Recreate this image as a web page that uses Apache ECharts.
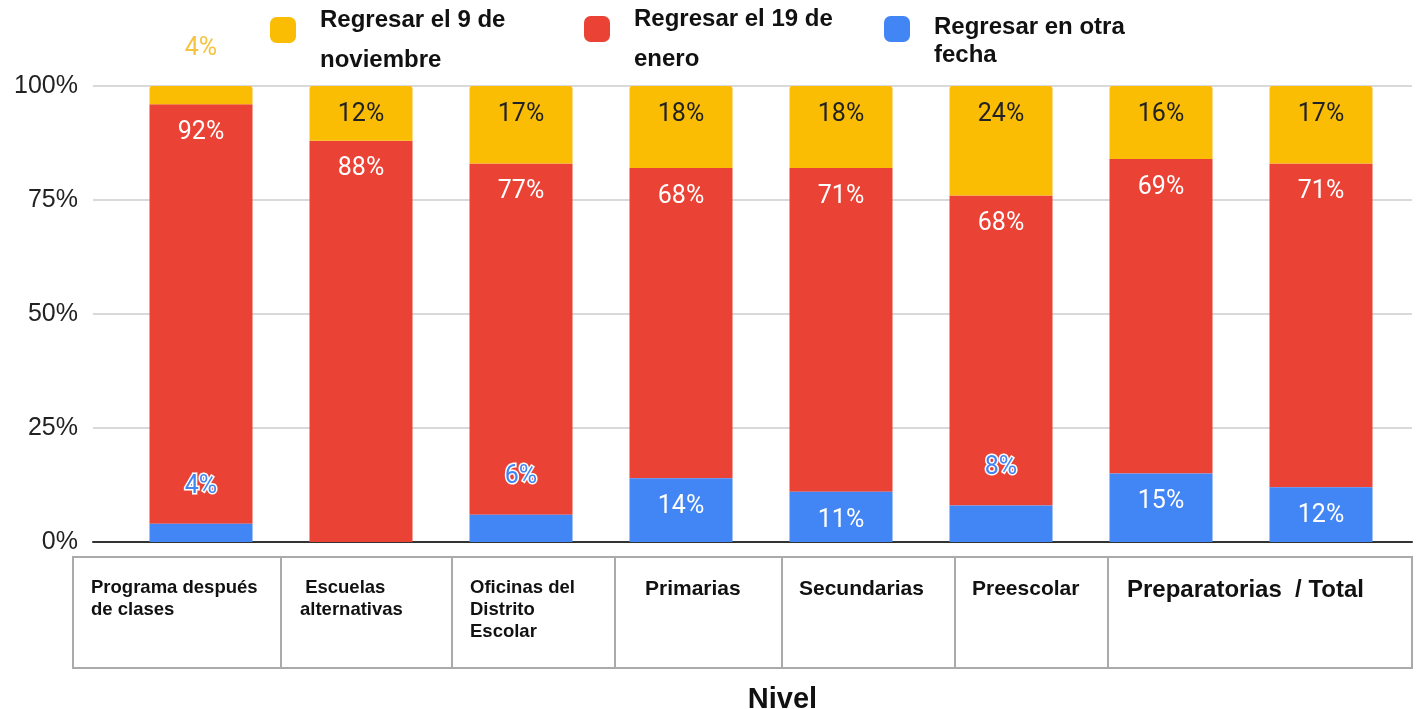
<!DOCTYPE html>
<html>
<head>
<meta charset="utf-8">
<script src="https://cdn.jsdelivr.net/npm/echarts@6/dist/echarts.min.js"></script>
<style>
html,body{margin:0;padding:0;background:#fff;}
#chart{width:1418px;height:709px;}
</style>
</head>
<body>
<div id="chart"></div>
<script>
// ---- data ----
const categories = ['Programa después de clases','Escuelas alternativas','Oficinas del Distrito Escolar','Primarias','Secundarias','Preescolar','Preparatorias','Total'];
const seriesNames = ['Regresar el 9 de noviembre','Regresar el 19 de enero','Regresar en otra fecha'];
const legendLines = [['Regresar el 9 de','noviembre'],['Regresar el 19 de','enero'],['Regresar en otra','fecha']];
const otraFecha = [4, 0, 6, 14, 11, 8, 15, 12];
const enero19 = [92, 88, 77, 68, 71, 68, 69, 71];
const nov9 = [4, 12, 17, 18, 18, 24, 16, 17];
const yTicks = [0, 25, 50, 75, 100];
const cellLabels = ['Programa después\nde clases', ' Escuelas\nalternativas', 'Oficinas del\nDistrito\nEscolar', 'Primarias', 'Secundarias', 'Preescolar', 'Preparatorias  / Total'];
const axisTitle = 'Nivel';

// ---- layout (not data) ----
const cellEdges = [73, 281, 452, 615, 782, 955, 1108, 1412];
const cellTextOffset = [18, 19, 18, 30, 17, 17, 19];
const cellFont = [18.5, 18.5, 18.5, 21, 21, 21, 24];
const cellTextTop = [577, 577, 577, 578, 578, 578, 578];
const tableTop = 557, tableBottom = 668;

const COLORS = {yellow:'#FBBC04', red:'#EA4335', blue:'#4285F4'};
const SANS = '"Liberation Sans", Arial, sans-serif';

function makeData(vals, outsideColor) {
  return vals.map(v => {
    if (v === 0) return {value: v, label: {show: false}};
    if (v < 10) return {value: v, label: {position: 'top', distance: 25, color: outsideColor,
      textBorderColor: '#fff', textBorderWidth: 3}};
    return {value: v};
  });
}

const labelBase = {
  show: true, position: 'insideTop', distance: 16,
  fontFamily: 'Roboto', fontSize: 25, formatter: '{c}%'
};

const graphic = [];
graphic.push({type:'rect', shape:{x:cellEdges[0], y:tableTop, width:cellEdges[cellEdges.length-1]-cellEdges[0], height:tableBottom-tableTop},
  style:{fill:'none', stroke:'#aaaaaa', lineWidth:2}, silent:true});
for (let i = 1; i < cellEdges.length - 1; i++) {
  graphic.push({type:'line', shape:{x1:cellEdges[i], y1:tableTop, x2:cellEdges[i], y2:tableBottom},
    style:{stroke:'#aaaaaa', lineWidth:2}, silent:true});
}
cellLabels.forEach((t, i) => {
  graphic.push({type:'text', left: cellEdges[i] + cellTextOffset[i], top: cellTextTop[i],
    style:{text:t, font:'bold ' + cellFont[i] + 'px ' + SANS, fill:'#111', lineHeight: 22}, silent:true});
});

function legendFor(idx, left, top, h1, h2) {
  const tok = {fontFamily: SANS, fontWeight:'bold', fontSize:24, color:'#111'};
  return {
    data: [seriesNames[idx]], left: left, top: top, padding: 0,
    icon: 'roundRect', itemWidth: 26, itemHeight: 26,
    formatter: () => '{a|' + legendLines[idx][0] + '}\n{b|' + legendLines[idx][1] + '}',
    textStyle: Object.assign({}, tok, {padding:[0, 0, 0, 19],
      rich: {a: Object.assign({lineHeight: h1}, tok), b: Object.assign({lineHeight: h2}, tok)}}),
    selectedMode: false
  };
}

const option = {
  animation: false,
  backgroundColor: '#fff',
  legend: [
    legendFor(0, 270, 8, 60, 20),
    legendFor(1, 584, 7, 60, 20),
    legendFor(2, 884, 15, 52, 4)
  ],
  grid: [
    {left: 93, right: 6, top: 86, bottom: 167, outerBoundsMode: 'none', containLabel: false},
    {left: 121, right: 17, top: 86, bottom: 167, outerBoundsMode: 'none', containLabel: false}
  ],
  xAxis: [
    {type:'category', gridIndex:0, data: categories, axisTick:{show:false}, axisLabel:{show:false},
      axisLine:{show:true, lineStyle:{color:'#333', width:2}},
      name: axisTitle, nameLocation:'middle', nameGap: 143,
      nameTextStyle:{fontFamily: SANS, fontWeight:'bold', fontSize:29, color:'#111', padding:[0,0,0,60]}},
    {type:'category', gridIndex:1, data: categories, show:false}
  ],
  yAxis: [
    {type:'value', gridIndex:0, min: yTicks[0], max: yTicks[yTicks.length-1], interval: yTicks[1]-yTicks[0],
      axisLine:{show:false}, axisTick:{show:false},
      splitLine:{lineStyle:{color:'#cccccc', width:1.5}},
      axisLabel:{formatter:'{value}%', fontFamily: SANS, fontSize:25, color:'#222', margin:15, padding:[3,0,0,0]}},
    {type:'value', gridIndex:1, min: yTicks[0], max: yTicks[yTicks.length-1], show:false}
  ],
  series: [
    {name: seriesNames[2], type:'bar', stack:'s', xAxisIndex:1, yAxisIndex:1, barWidth:103, z:4,
      itemStyle:{color:COLORS.blue},
      label: Object.assign({}, labelBase, {color:'#fff'}),
      data: makeData(otraFecha, COLORS.blue)},
    {name: seriesNames[1], type:'bar', stack:'s', xAxisIndex:1, yAxisIndex:1, barWidth:103, z:2,
      itemStyle:{color:COLORS.red},
      label: Object.assign({}, labelBase, {color:'#fff'}),
      data: makeData(enero19, COLORS.red)},
    {name: seriesNames[0], type:'bar', stack:'s', xAxisIndex:1, yAxisIndex:1, barWidth:103, z:2,
      itemStyle:{color:COLORS.yellow, borderRadius:[3,3,0,0]},
      label: Object.assign({}, labelBase, {color:'#222'}),
      data: makeData(nov9, '#F5C33F')}
  ],
  graphic: graphic
};

const chart = echarts.init(document.getElementById('chart'), null, {renderer:'canvas'});
chart.setOption(option);
</script>
</body>
</html>
